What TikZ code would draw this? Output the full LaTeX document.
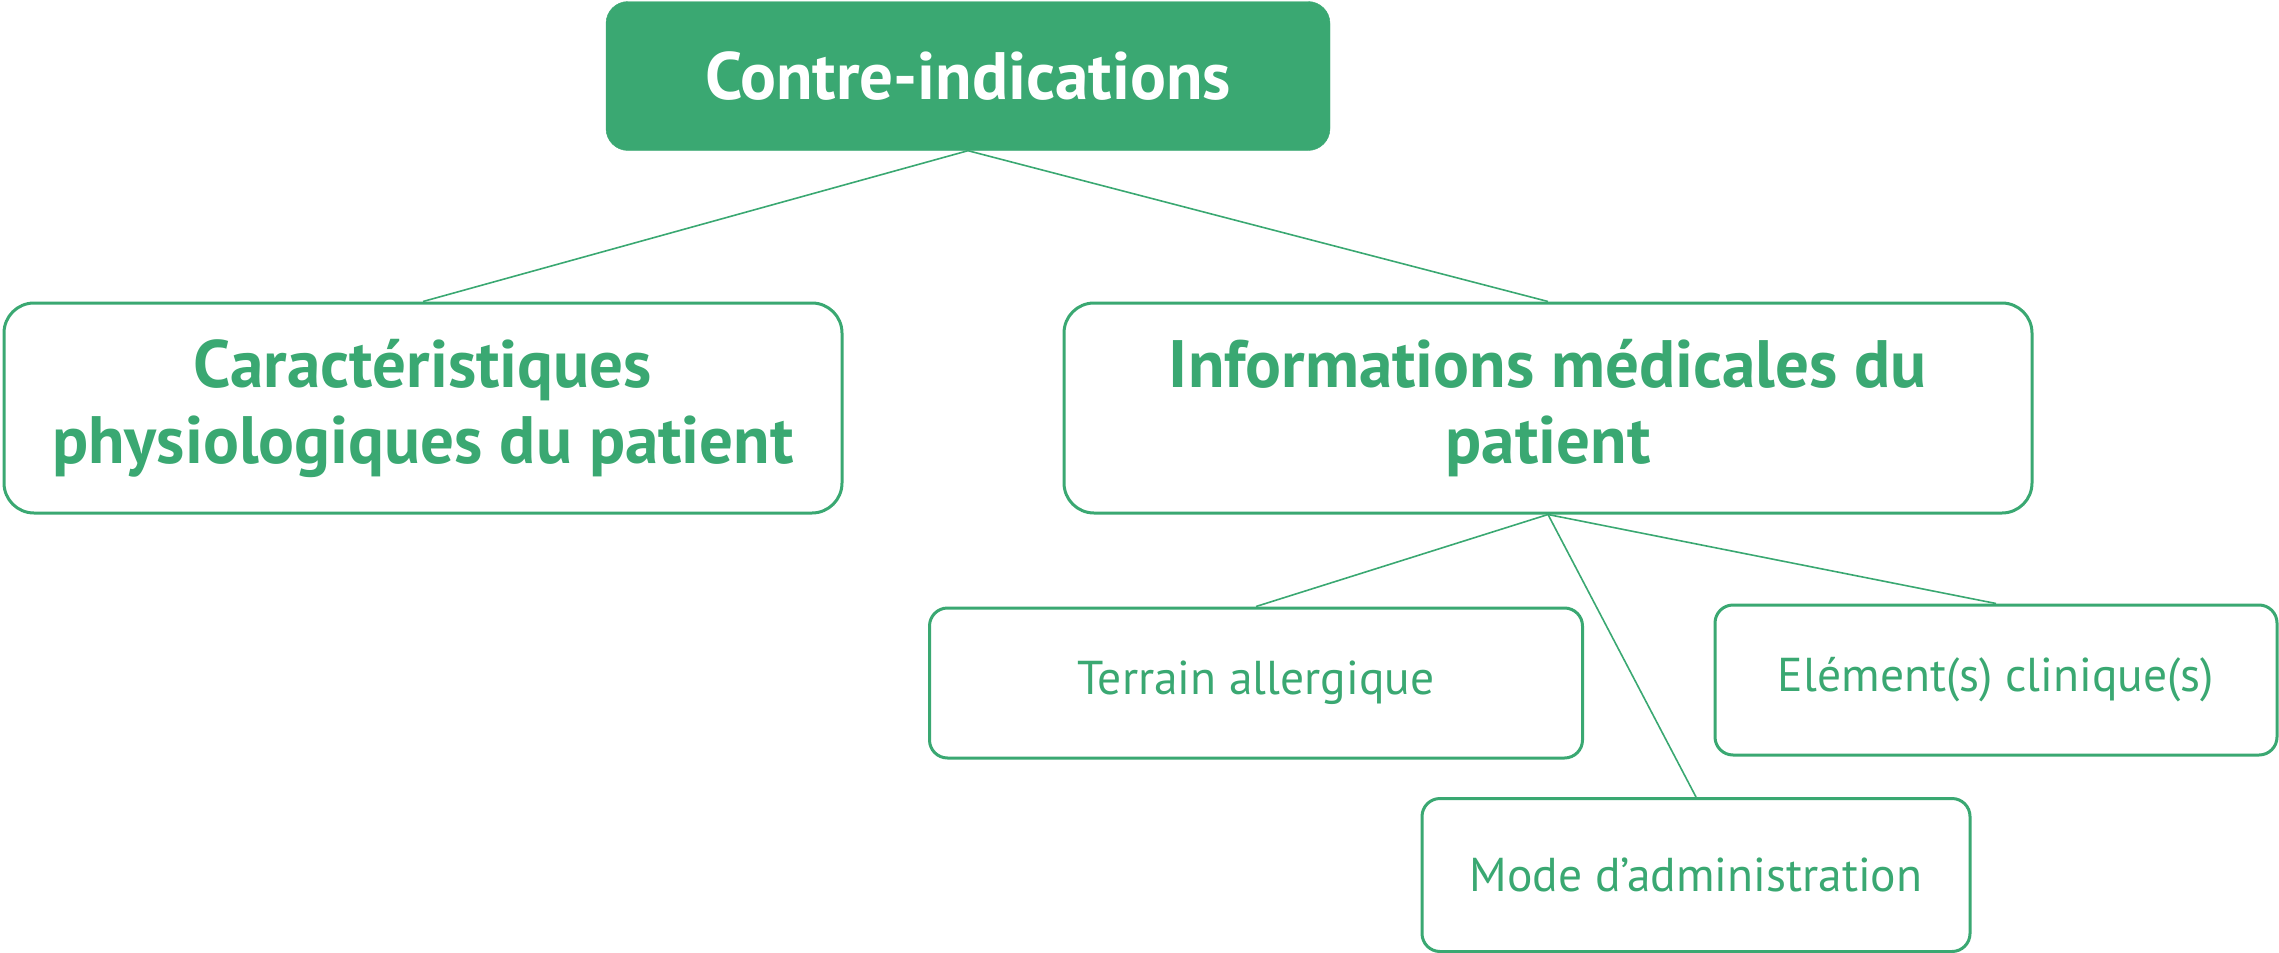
\documentclass[tikz,border=0pt]{standalone}
\usepackage{fontspec}
\setmainfont{PT Sans}
\definecolor{cgreen}{RGB}{58,168,114}
\tikzset{
  topbox/.style={fill=cgreen, draw=cgreen, rounded corners=22pt, text=white, font=\bfseries\fontsize{67}{76}\selectfont, align=center, inner sep=0pt},
  midbox/.style={draw=cgreen, line width=3pt, rounded corners=30pt, fill=white, text=cgreen, font=\bfseries\fontsize{67}{76}\selectfont, align=center, inner sep=0pt},
  leafbox/.style={draw=cgreen, line width=3pt, rounded corners=18pt, fill=white, text=cgreen, font=\fontsize{47.5}{56}\selectfont, align=center, inner sep=0pt},
  link/.style={draw=cgreen, line width=1.6pt}
}
\begin{document}
\begin{tikzpicture}[x=1pt,y=-1pt]
\useasboundingbox (0,0) rectangle (2279,953);
\node[topbox, minimum width=724pt, minimum height=149pt] (top) at (968,76) {Contre-indications};
\node[midbox, minimum width=838pt, minimum height=210pt] (left) at (423,408) {Caractéristiques\\physiologiques du patient};
\node[midbox, minimum width=968pt, minimum height=210pt] (right) at (1548,408) {Informations médicales du\\patient};
\node[leafbox, minimum width=653pt, minimum height=150pt] (terrain) at (1256,683) {Terrain allergique};
\node[leafbox, minimum width=562pt, minimum height=150pt] (element) at (1996,680) {Elément(s) clinique(s)};
\node[leafbox, minimum width=548pt, minimum height=153pt] (mode) at (1696,875) {Mode d’administration};
\draw[link] (top.south) -- (left.north);
\draw[link] (top.south) -- (right.north);
\draw[link] (right.south) -- (terrain.north);
\draw[link] (right.south) -- (mode.north);
\draw[link] (right.south) -- (element.north);
\end{tikzpicture}
\end{document}
